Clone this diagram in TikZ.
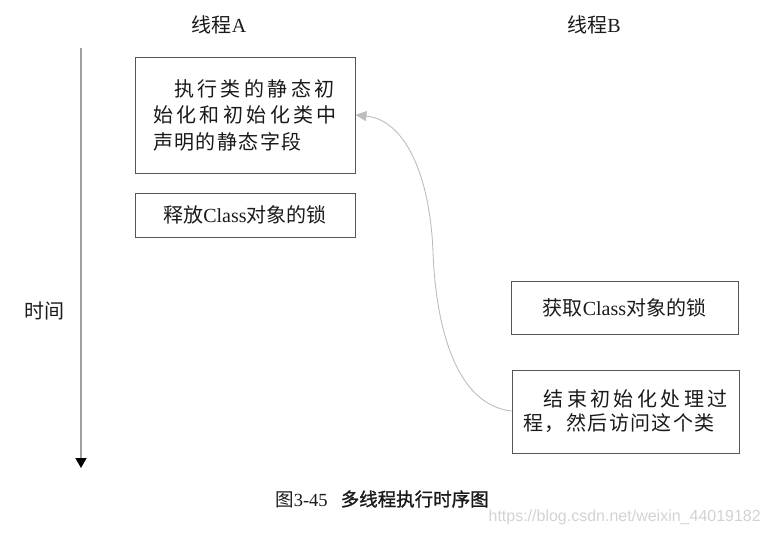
\documentclass[tikz,border=0pt]{standalone}
\usepackage{fontspec}
\setmainfont{Liberation Serif}
\newfontfamily\sansw{Liberation Sans}
\newfontfamily\cjk{Noto Sans CJK SC}
\newfontfamily\cjksp[LetterSpace=17]{Noto Sans CJK SC}
\newfontfamily\cjkmid[LetterSpace=7]{Noto Sans CJK SC}
\newfontfamily\cjkbold[FakeBold=1.2]{Noto Sans CJK SC}
\usetikzlibrary{arrows.meta}
\definecolor{boxline}{HTML}{555555}
\definecolor{arrowgray}{HTML}{BDBDBD}
\definecolor{axisgray}{HTML}{A0A0A0}
\definecolor{wmgray}{HTML}{D2D2D2}
\definecolor{txt}{HTML}{1A1A1A}
\begin{document}
\begin{tikzpicture}[x=1pt,y=-1pt,
  box/.style={draw=boxline, line width=0.95pt, inner sep=0pt, text=txt,
    font=\fontsize{20}{26.5}\selectfont},
  lbl/.style={inner sep=0pt, text=txt, font=\fontsize{20}{24}\selectfont},
  flow/.style={draw=arrowgray, line width=0.9pt, -{Triangle[length=11pt,width=10pt]}},
  timeaxis/.style={draw=axisgray, line width=1.4pt, -{Triangle[length=10pt,width=11pt,color=black]}}
]
\useasboundingbox (0,0) rectangle (770,535);

% headings
\node[lbl] (ha) at (219,25) {{\cjk 线程}A};
\node[lbl] (hb) at (594,25) {{\cjk 线程}B};

% time axis
\coordinate (tTop) at (81,48);
\coordinate (tBot) at (81,468);
\draw[timeaxis] (tTop) -- (tBot);
\node[lbl] (time) at (44,311) {\cjk 时间};

% thread A boxes
\node[box, minimum width=220pt, minimum height=116pt, align=left] (b1) at (245,115)
  {\hspace{21pt}{\cjksp 执行类的静态初}\\
   {\cjksp 始化和初始化类中}\\
   {\cjkmid 声明的静态字段}};
\node[box, minimum width=220pt, minimum height=44pt] (b2) at (245,215)
  {{\cjk 释放}Class{\cjk 对象的锁}};

% thread B boxes
\node[box, minimum width=227pt, minimum height=53pt] (b3) at (624.5,307.5)
  {{\cjk 获取}Class{\cjk 对象的锁}};
\node[box, minimum width=227pt, minimum height=83pt, align=left, font=\fontsize{20}{24}\selectfont] (b4) at (625.5,411.5)
  {\hspace{20pt}{\cjksp 结束初始化处理过}\\
   {\cjkmid 程，然后访问这个类}};

% connector
\coordinate (mid) at (433,252);
\draw[flow] ([yshift=0.5pt]b4.west) .. controls (457,405) and (436,330) .. (mid)
  .. controls (430,175) and (405,120) .. (b1.east);

% caption
\node[inner sep=0pt, text=txt, font=\fontsize{18.5}{22}\selectfont] (cap) at (382,499)
  {{\cjk 图}3-45\hspace{13pt}{\cjkbold 多线程执行时序图}};
\node[inner sep=0pt, anchor=east, text=wmgray, font=\sansw\fontsize{16}{19}\selectfont] (wm) at (761,517)
  {https://blog.csdn.net/weixin\_44019182};
\end{tikzpicture}
\end{document}
